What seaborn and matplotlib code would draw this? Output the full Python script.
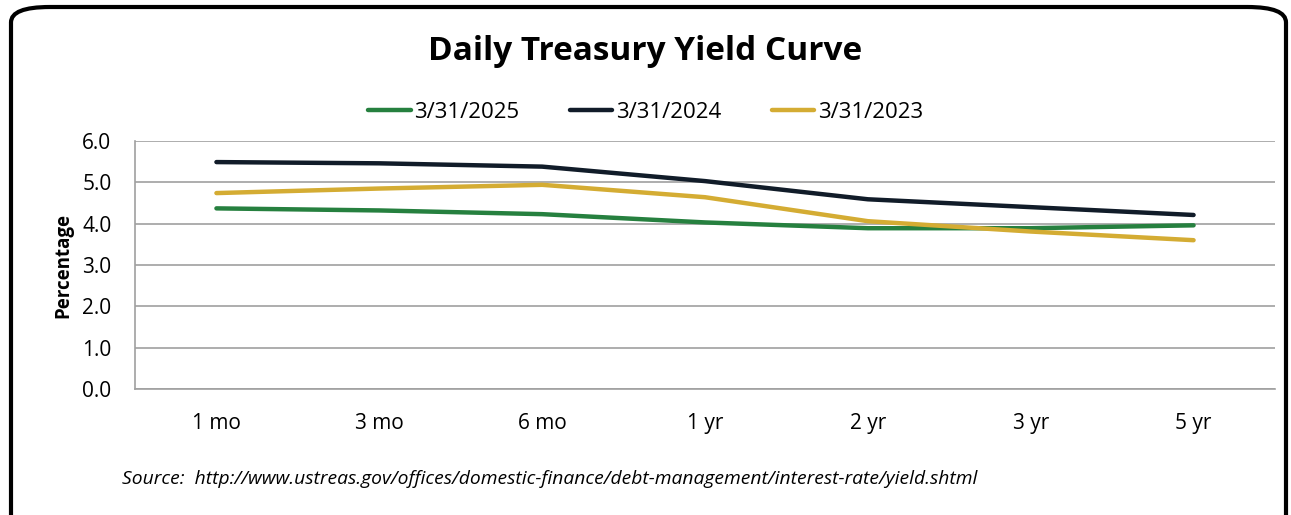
import matplotlib
matplotlib.use("Agg")
import matplotlib.pyplot as plt
from matplotlib.patches import FancyBboxPatch
from matplotlib.ticker import FixedLocator, NullFormatter
from matplotlib.lines import Line2D
import seaborn as sns
import pandas as pd

maturities = ["1 mo", "3 mo", "6 mo", "1 yr", "2 yr", "3 yr", "5 yr"]
series_names = ["3/31/2025", "3/31/2024", "3/31/2023"]
yield_2025 = [4.37, 4.32, 4.23, 4.03, 3.89, 3.89, 3.96]
yield_2024 = [5.49, 5.46, 5.38, 5.03, 4.59, 4.40, 4.21]
yield_2023 = [4.74, 4.85, 4.94, 4.64, 4.06, 3.81, 3.60]
y_ticks = [0.0, 1.0, 2.0, 3.0, 4.0, 5.0, 6.0]
colors = ["#26803F", "#111C29", "#D4AC33"]

rows = []
for name, vals in zip(series_names, [yield_2025, yield_2024, yield_2023]):
    for i, (m, v) in enumerate(zip(maturities, vals)):
        rows.append({"pos": i, "maturity": m, "series": name, "value": v})
df = pd.DataFrame(rows)

sns.set_theme(style="white")
plt.rcParams["font.family"] = ["Open Sans", "DejaVu Sans"]
for k in ["text.color", "axes.labelcolor", "xtick.color", "ytick.color"]:
    plt.rcParams[k] = "black"

fig = plt.figure(figsize=(12.91, 5.15), dpi=100)
ax = fig.add_axes([135/1291, 1-389/515, (1275-135)/1291, (389-141)/515])

sns.lineplot(data=df, x="pos", y="value", hue="series", hue_order=series_names,
             palette=colors, linewidth=3.2, ax=ax, legend=False,
             solid_capstyle="round", sort=False)

ax.set_xlim(-0.5, len(maturities) - 0.5)
ax.set_ylim(0, 6)
ax.set_yticks(y_ticks)
ax.set_yticklabels([f"{t:.1f}" for t in y_ticks], fontsize=15)
ax.set_xticks(range(len(maturities)))
ax.set_xticklabels(maturities, fontsize=15)
ax.xaxis.set_minor_locator(FixedLocator([i - 0.5 for i in range(len(maturities) + 1)]))
ax.xaxis.set_minor_formatter(NullFormatter())
ax.tick_params(axis="x", which="major", length=0, pad=17, labelcolor="black")
ax.tick_params(axis="x", which="minor", length=6, width=1, color="#999999", direction="out")
ax.tick_params(axis="y", which="major", length=6, width=1, color="#999999", direction="out",
               pad=11, labelcolor="black")
ax.set_xlabel("")
ax.set_ylabel("Percentage", fontsize=13.5, fontweight="bold", labelpad=6, color="black")
ax.grid(axis="y", color="#A0A0A0", linewidth=1.2)
ax.set_axisbelow(True)
for s in ["top", "right"]:
    ax.spines[s].set_visible(False)
for s in ["left", "bottom"]:
    ax.spines[s].set_color("#A0A0A0")
    ax.spines[s].set_linewidth(1.2)

handles = [Line2D([0], [0], color=c, lw=3.2, solid_capstyle="round") for c in colors]
fig.legend(handles, series_names, loc="center", bbox_to_anchor=(0.5, 1-112/515),
           ncol=3, frameon=False, fontsize=16, handlelength=1.9, handletextpad=0.15,
           columnspacing=2.3, labelcolor="black")

fig.text(0.5, 1-52/515, "Daily Treasury Yield Curve", ha="center", va="center",
         fontsize=24, fontweight="bold", color="black")
fig.text(122/1291, 1-479/515,
         "Source:  http://www.ustreas.gov/offices/domestic-finance/debt-management/interest-rate/yield.shtml",
         ha="left", va="center", fontsize=13.9, style="italic", color="black")

border = FancyBboxPatch((11/1291, -0.05), (1286-11)/1291, (508/515) + 0.05,
                        boxstyle="round,pad=0,rounding_size=0.03",
                        transform=fig.transFigure, fill=False, edgecolor="black",
                        linewidth=3, mutation_aspect=515/1291*2.5)
fig.patches.append(border)

fig.savefig("out.png", dpi=100)
